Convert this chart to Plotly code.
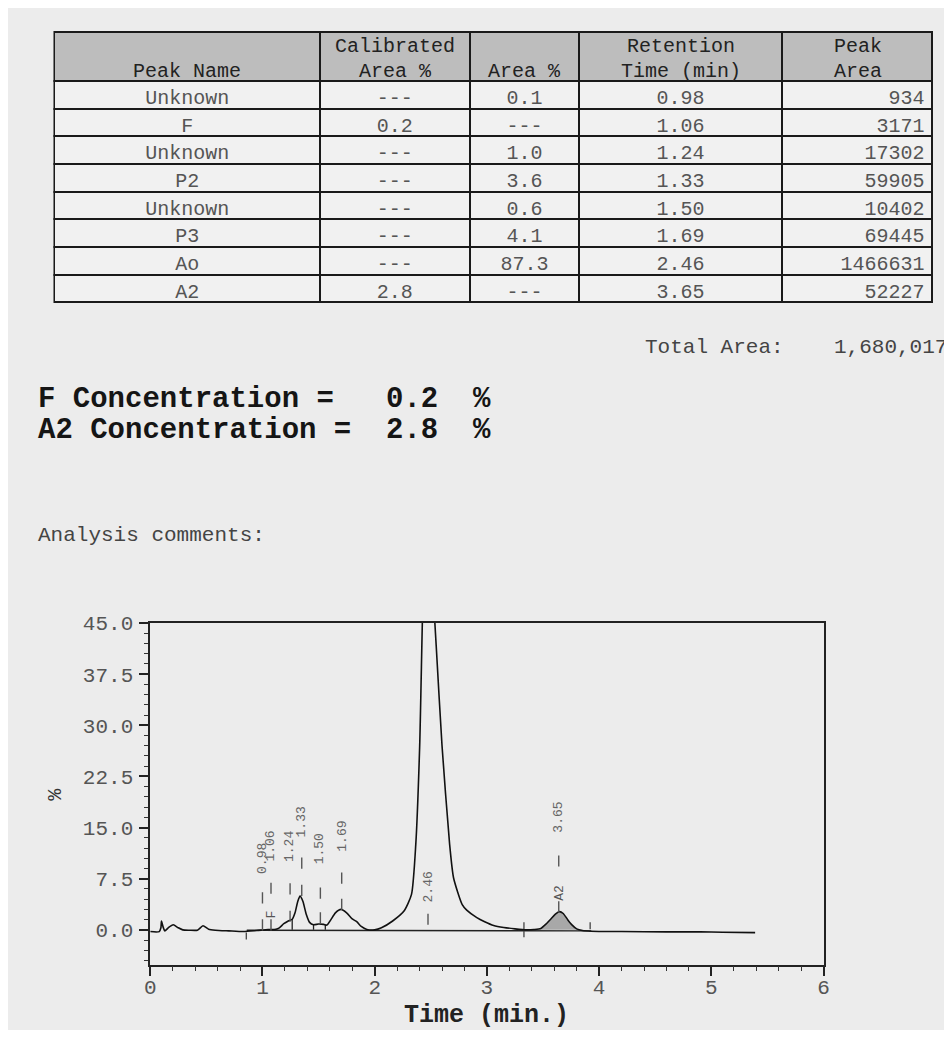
import plotly.graph_objects as go

# The page body adds an 8 px margin; size the figure so it fills the rest of the window.
OFF = 8
W, H = 952 - OFF, 1038 - 2 * OFF
MONO = "Liberation Mono, Courier New, monospace"

# ---------------- table data ----------------
header_line1 = ["", "Calibrated", "", "Retention", "Peak"]
header_line2 = ["Peak Name", "Area %", "Area %", "Time (min)", "Area"]
peak_names = ["Unknown", "F", "Unknown", "P2", "Unknown", "P3", "Ao", "A2"]
calibrated_area = ["---", "0.2", "---", "---", "---", "---", "---", "2.8"]
area_pct = ["0.1", "---", "1.0", "3.6", "0.6", "4.1", "87.3", "---"]
retention_time = ["0.98", "1.06", "1.24", "1.33", "1.50", "1.69", "2.46", "3.65"]
peak_area = [934, 3171, 17302, 59905, 10402, 69445, 1466631, 52227]
total_area = "1,680,017"
f_conc = "0.2"
a2_conc = "2.8"

# ---------------- chromatogram ----------------
time_min = [0.00, 0.08, 0.095, 0.10, 0.115, 0.13, 0.16, 0.205, 0.25, 0.29,
            0.35, 0.42, 0.47, 0.52, 0.58, 0.70, 0.83, 0.95, 1.05, 1.12,
            1.15, 1.19, 1.23, 1.265, 1.29, 1.315, 1.335, 1.36, 1.39, 1.42,
            1.455, 1.50, 1.545, 1.575, 1.61, 1.65, 1.70, 1.75, 1.80, 1.84,
            1.88, 1.93, 2.00, 2.06, 2.16, 2.263, 2.328, 2.366, 2.401, 2.44,
            2.47, 2.50, 2.548, 2.60, 2.668, 2.703, 2.78, 2.82, 2.91, 2.98,
            3.06, 3.15, 3.25, 3.35, 3.42, 3.48, 3.53, 3.57, 3.61, 3.647,
            3.68, 3.72, 3.76, 3.80, 3.85, 3.93, 4.20, 4.60, 4.90, 5.10, 5.39]
signal_pct = [-0.25, -0.25, 0.3, 1.3, 0.4, -0.15, 0.3, 0.75, 0.3, 0.0,
              -0.05, -0.05, 0.6, 0.1, -0.05, -0.15, -0.25, -0.1, 0.05, 0.1,
              0.3, 0.9, 1.3, 1.55, 2.5, 4.2, 4.95, 4.2, 2.3, 1.1,
              0.75, 0.85, 0.8, 0.7, 1.5, 2.5, 3.0, 2.5, 1.6, 1.2,
              0.5, 0.05, 0.0, 0.3, 1.3, 2.8, 5.2, 12.5, 27.0, 55.0,
              62.0, 55.0, 41.7, 27.0, 12.5, 7.6, 3.7, 2.9, 1.8, 1.2,
              0.65, 0.35, 0.15, 0.0, 0.05, 0.2, 0.9, 1.6, 2.3, 2.67,
              2.4, 1.5, 0.7, 0.15, -0.1, -0.2, -0.25, -0.3, -0.3, -0.35, -0.4]

# integration baseline and drop lines
baseline_t = [0.86, 3.33, 3.93]
baseline_v = [-0.05, -0.05, -0.15]
drop_t = [1.265, 1.455, 1.56]
drop_top = [1.55, 0.75, 0.72]
marker_t = [0.856, 3.33, 3.92]
marker_lo = [-1.4, -1.1, 0.1]
marker_hi = [-0.4, 1.1, 1.1]

# peak annotations
label_x = [1.00, 1.076, 1.246, 1.35, 1.516, 1.706, 2.475, 3.64]
label_bottom = [7.9, 9.8, 9.6, 13.3, 9.3, 11.2, 3.8, 14.0]
apex_tick_v = [0.73, 0.73, 2.0, 5.8, 1.75, 3.75, None, 3.36]
upper_tick_v = [4.7, 6.1, 6.0, 9.8, 5.4, 7.6, 1.56, 10.1]
name_labels = ["F", "A2"]
name_x = [1.076, 3.64]
name_y = [2.26, 5.4]

# shaded A2 range
a2_start, a2_end = 3.42, 3.86


def px(x):
    return (x - OFF) / W


def py(y):
    return 1 - (y - OFF) / H


fig = go.Figure()

# ---- table ----
col_edges = [49, 318, 470, 581, 786, 939]
col_w = [b - a for a, b in zip(col_edges[:-1], col_edges[1:])]
fig.add_trace(go.Table(
    domain=dict(x=[px(col_edges[0]), px(col_edges[-1])], y=[py(308), py(22)]),
    columnwidth=col_w,
    header=dict(values=[""] * 5, fill_color="#bdbdbd",
                line=dict(color="#1a1a1a", width=2), height=49),
    cells=dict(values=[peak_names, calibrated_area, area_pct, retention_time,
                       [str(v) for v in peak_area]],
               fill_color="#f1f1f1", line=dict(color="#1a1a1a", width=2),
               align=["center", "center", "center", "center", "right"],
               font=dict(family=MONO, size=20, color="#555"), height=27.7),
))

annotations = []
for i in range(5):
    cx = (col_edges[i] + col_edges[i + 1]) / 2
    for txt, yy in ((header_line1[i], 37), (header_line2[i], 62)):
        if txt:
            annotations.append(dict(x=px(cx), y=py(yy), xref="paper", yref="paper",
                                    text=txt, showarrow=False, xanchor="center",
                                    yanchor="middle",
                                    font=dict(family=MONO, size=20, color="#222")))

# ---- chromatogram ----
fill_t = [t for t in time_min if a2_start <= t <= a2_end]
fill_v = [v for t, v in zip(time_min, signal_pct) if a2_start <= t <= a2_end]
fig.add_trace(go.Scatter(x=fill_t, y=fill_v, mode="lines", fill="tozeroy",
                         fillcolor="#a8a8a8", line=dict(width=0, shape="spline"),
                         hoverinfo="skip", showlegend=False))

fig.add_trace(go.Scatter(x=baseline_t, y=baseline_v, mode="lines",
                         line=dict(color="#222", width=1.4), showlegend=False))

dx, dy = [], []
for t, top in zip(drop_t, drop_top):
    dx += [t, t, None]
    dy += [0, top, None]
fig.add_trace(go.Scatter(x=dx, y=dy, mode="lines",
                         line=dict(color="#222", width=1.3), showlegend=False))

mx, my = [], []
for t, lo, hi in zip(marker_t, marker_lo, marker_hi):
    mx += [t, t, None]
    my += [lo, hi, None]
fig.add_trace(go.Scatter(x=mx, y=my, mode="lines",
                         line=dict(color="#444", width=1.3), showlegend=False))

fig.add_trace(go.Scatter(x=time_min, y=signal_pct, mode="lines",
                         line=dict(color="#111", width=1.6, shape="spline", smoothing=0.6),
                         showlegend=False))

tx, ty = [], []
for x, a, u in zip(label_x, apex_tick_v, upper_tick_v):
    if a is not None:
        tx.append(x); ty.append(a)
    tx.append(x); ty.append(u)
fig.add_trace(go.Scatter(x=tx, y=ty, mode="markers",
                         marker=dict(symbol="line-ns", size=8,
                                     line=dict(color="#555", width=1.4)),
                         showlegend=False))

for x, yb, txt in zip(label_x, label_bottom, retention_time):
    annotations.append(dict(x=x, y=yb, xref="x", yref="y", text=txt, textangle=-90,
                            showarrow=False, xanchor="center", yanchor="bottom",
                            font=dict(family=MONO, size=13, color="#666")))
for x, y, txt in zip(name_x, name_y, name_labels):
    annotations.append(dict(x=x, y=y, xref="x", yref="y", text=txt, textangle=-90,
                            showarrow=False, xanchor="center", yanchor="middle",
                            font=dict(family=MONO, size=13, color="#555")))

# page texts
annotations += [
    dict(x=px(645), y=py(341), xref="paper", yref="paper", text="Total Area:",
         showarrow=False, xanchor="left", yanchor="middle",
         font=dict(family=MONO, size=21, color="#444")),
    dict(x=px(955), y=py(341), xref="paper", yref="paper", text=total_area,
         showarrow=False, xanchor="right", yanchor="middle",
         font=dict(family=MONO, size=21, color="#444")),
    dict(x=px(30), y=py(393), xref="paper", yref="paper",
         text=f"<b>F Concentration =   {f_conc}  %</b>",
         showarrow=False, xanchor="left", yanchor="middle",
         font=dict(family=MONO, size=29, color="#151515")),
    dict(x=px(30), y=py(425), xref="paper", yref="paper",
         text=f"<b>A2 Concentration =  {a2_conc}  %</b>",
         showarrow=False, xanchor="left", yanchor="middle",
         font=dict(family=MONO, size=29, color="#151515")),
    dict(x=px(30), y=py(531), xref="paper", yref="paper", text="Analysis comments:",
         showarrow=False, xanchor="left", yanchor="middle",
         font=dict(family=MONO, size=21, color="#444")),
    dict(x=px(50), y=py(792), xref="paper", yref="paper", text="%", textangle=-90,
         showarrow=False, xanchor="center", yanchor="middle",
         font=dict(family=MONO, size=20, color="#333")),
    dict(x=px(487), y=py(1015), xref="paper", yref="paper", text="<b>Time (min.)</b>",
         showarrow=False, xanchor="center", yanchor="middle",
         font=dict(family=MONO, size=25, color="#222")),
]

fig.update_layout(
    width=W, height=H, margin=dict(l=0, r=0, t=0, b=0),
    paper_bgcolor="#ececec", plot_bgcolor="rgba(0,0,0,0)",
    showlegend=False, annotations=annotations,
    xaxis=dict(domain=[px(146), px(828)], range=[0, 6], dtick=1, tick0=0,
               showgrid=False, zeroline=False, showline=True, mirror=True,
               linecolor="#222", linewidth=1.5, ticks="outside", ticklen=10,
               tickwidth=1.5, tickcolor="#222", ticklabelstandoff=-8,
               tickfont=dict(family=MONO, size=21, color="#555"),
               minor=dict(dtick=0.2, ticks="outside", ticklen=5, tickwidth=1.2,
                          tickcolor="#333", showgrid=False)),
    yaxis=dict(domain=[py(964), py(619)], range=[-5.1, 45], dtick=7.5, tick0=0,
               tickformat=".1f", showgrid=False, zeroline=False, showline=True,
               mirror=True, linecolor="#222", linewidth=1.5, ticks="outside",
               ticklen=9, tickwidth=1.5, tickcolor="#222", ticklabelstandoff=2,
               tickfont=dict(family=MONO, size=21, color="#555"),
               minor=dict(dtick=1.5, ticks="outside", ticklen=4, tickwidth=1.2,
                          tickcolor="#333", showgrid=False)),
)

fig.write_html("out.html")
